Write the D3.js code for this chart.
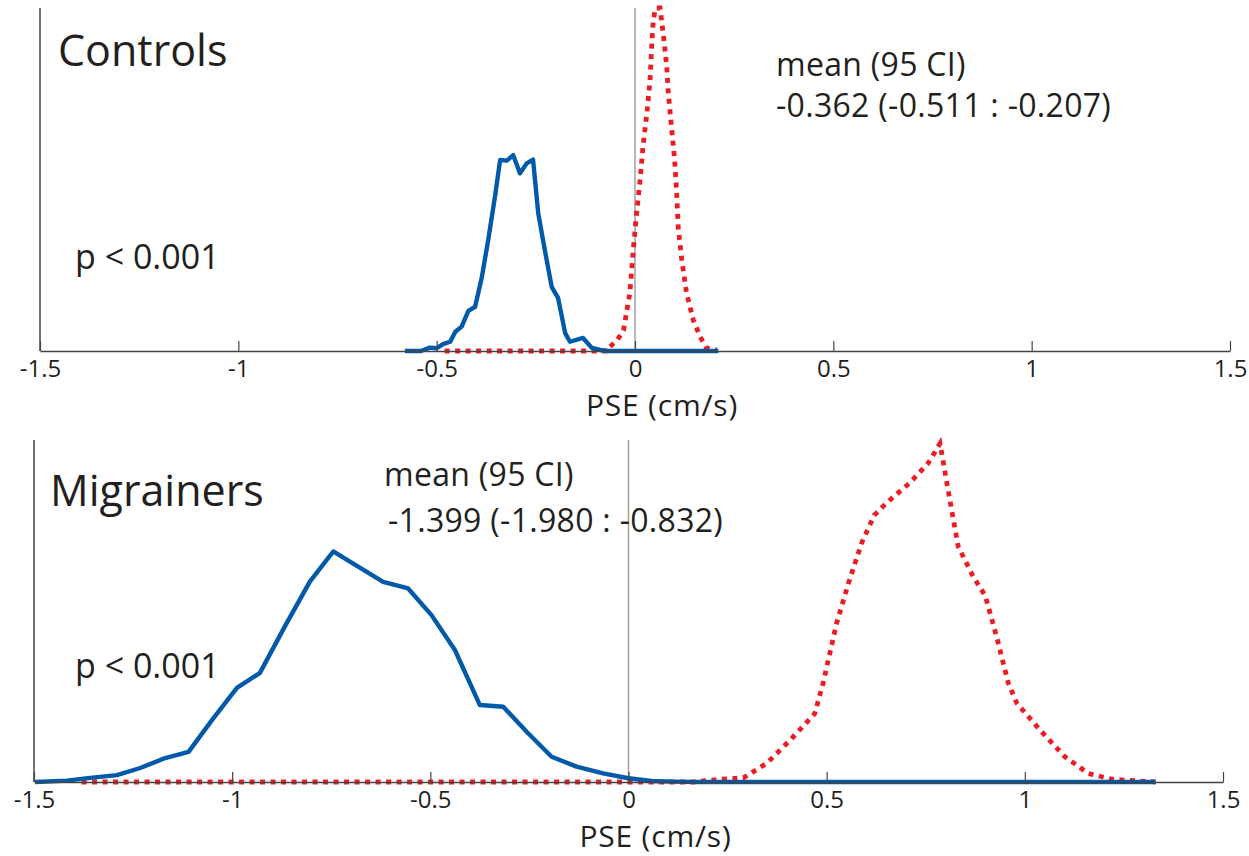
<!DOCTYPE html>
<html>
<head>
<meta charset="utf-8">
<script src="https://cdn.jsdelivr.net/npm/d3@7"></script>
<style>
  html, body { margin: 0; padding: 0; background: #fff; }
  svg text { font-family: "Open Sans", "Noto Sans", sans-serif; fill: #231f20; }
</style>
</head>
<body>
<svg id="chart" width="1249" height="856"></svg>
<script>
// ---------- DATA ----------
const xTicks = [-1.5, -1, -0.5, 0, 0.5, 1, 1.5];
const xTickLabels = ["-1.5", "-1", "-0.5", "0", "0.5", "1", "1.5"];
const xLabel = "PSE (cm/s)";

// Controls – blue (solid) distribution
const ctrlBlueX = [-0.58, -0.54, -0.517, -0.50, -0.484, -0.466, -0.453, -0.437, -0.42, -0.403, -0.386, -0.37, -0.353, -0.34, -0.323, -0.307, -0.29, -0.273, -0.257, -0.244, -0.227, -0.21, -0.194, -0.176, -0.164, -0.131, -0.109, -0.088, -0.07, 0.21];
const ctrlBlueY = [0, 0, 0.01, 0.008, 0.02, 0.027, 0.056, 0.071, 0.117, 0.129, 0.216, 0.324, 0.45, 0.557, 0.555, 0.571, 0.518, 0.547, 0.558, 0.402, 0.292, 0.187, 0.155, 0.052, 0.027, 0.038, 0.009, 0.003, 0, 0];
// Controls – red (dotted) distribution
const ctrlRedX = [-0.48, -0.07, -0.063, -0.046, -0.029, -0.013, -0.005, 0.004, 0.013, 0.02, 0.03, 0.038, 0.042, 0.046, 0.052, 0.063, 0.071, 0.08, 0.084, 0.092, 0.1, 0.105, 0.109, 0.118, 0.13, 0.147, 0.164, 0.18, 0.206];
const ctrlRedY = [0, 0, 0.013, 0.03, 0.06, 0.169, 0.286, 0.402, 0.5, 0.595, 0.694, 0.79, 0.887, 0.965, 1.0, 1.0, 0.927, 0.829, 0.752, 0.653, 0.557, 0.46, 0.36, 0.265, 0.169, 0.09, 0.042, 0.009, 0.003];

// Migrainers – blue (solid) distribution
const migBlueX = [-1.497, -1.417, -1.358, -1.291, -1.232, -1.169, -1.11, -1.051, -0.988, -0.93, -0.867, -0.804, -0.745, -0.677, -0.619, -0.556, -0.497, -0.438, -0.375, -0.316, -0.257, -0.194, -0.131, -0.064, 0, 0.058, 0.113, 0.17, 1.33];
const migBlueY = [0, 0.004, 0.012, 0.02, 0.041, 0.07, 0.088, 0.181, 0.275, 0.319, 0.455, 0.586, 0.674, 0.626, 0.585, 0.566, 0.488, 0.386, 0.225, 0.22, 0.147, 0.074, 0.045, 0.025, 0.011, 0.003, 0.001, 0, 0];
// Migrainers – red (dotted) distribution
const migRedX = [-1.38, 0.163, 0.231, 0.29, 0.349, 0.41, 0.47, 0.491, 0.525, 0.555, 0.588, 0.62, 0.65, 0.71, 0.756, 0.786, 0.81, 0.832, 0.87, 0.9, 0.93, 0.958, 0.98, 1.04, 1.1, 1.16, 1.22, 1.33];
const migRedY = [0, 0, 0.008, 0.012, 0.055, 0.125, 0.2, 0.289, 0.464, 0.581, 0.698, 0.78, 0.815, 0.875, 0.932, 0.99, 0.83, 0.688, 0.6, 0.545, 0.42, 0.29, 0.23, 0.15, 0.075, 0.025, 0.008, 0];

const panelTitles = ["Controls", "Migrainers"];
const meanHeader = "mean (95 CI)";
const meanValues = ["-0.362 (-0.511 : -0.207)", "-1.399 (-1.980 : -0.832)"];
const pTexts = ["p < 0.001", "p < 0.001"];

// ---------- DRAW ----------
const svg = d3.select("#chart");
const BLUE = "#0059A9";
const RED = "#ED1C24";

const zip = (xs, ys) => xs.map((x, i) => [x, ys[i]]);

const panels = [
  { x0: 40, x1: 1230, yb: 351, yt: 8, blue: zip(ctrlBlueX, ctrlBlueY), red: zip(ctrlRedX, ctrlRedY),
    titlePos: [58, 66], meanPos: [776, 76], valPos: [776, 117], pPos: [75, 269] },
  { x0: 34, x1: 1223, yb: 782, yt: 440, blue: zip(migBlueX, migBlueY), red: zip(migRedX, migRedY),
    titlePos: [50, 506], meanPos: [384, 486], valPos: [388, 532], pPos: [75, 678] }
];

panels.forEach((p, pi) => {
  const x = d3.scaleLinear().domain([-1.5, 1.5]).range([p.x0, p.x1]);
  const y = d3.scaleLinear().domain([0, 1]).range([p.yb, p.yt]);
  const g = svg.append("g");

  // zero reference line
  g.append("line")
    .attr("x1", x(0)).attr("x2", x(0))
    .attr("y1", y(1)).attr("y2", y(0))
    .attr("stroke", "#a0a0a0").attr("stroke-width", 1.5);

  // left axis line
  g.append("line")
    .attr("x1", x(-1.5)).attr("x2", x(-1.5))
    .attr("y1", y(1)).attr("y2", y(0))
    .attr("stroke", "#444").attr("stroke-width", 1.5);

  const line = d3.line().x(d => x(d[0])).y(d => y(d[1]));

  // red dotted
  g.append("path").datum(p.red)
    .attr("d", line)
    .attr("fill", "none").attr("stroke", RED)
    .attr("stroke-width", 4.8)
    .attr("stroke-dasharray", "5,5.5");

  // blue solid
  g.append("path").datum(p.blue)
    .attr("d", line)
    .attr("fill", "none").attr("stroke", BLUE)
    .attr("stroke-width", 4.4)
    .attr("stroke-linejoin", "round");

  // x axis
  const ax = g.append("g")
    .attr("transform", `translate(0,${p.yb})`)
    .call(d3.axisBottom(x).tickValues(xTicks)
      .tickFormat((d, i) => xTickLabels[i])
      .tickSizeInner(-10).tickSizeOuter(0).tickPadding(9));
  ax.select(".domain").attr("stroke", "#444").attr("stroke-width", 1.5);
  ax.selectAll(".tick line").attr("stroke", "#444").attr("stroke-width", 1.2);
  ax.selectAll(".tick text")
    .attr("font-size", 24)
    .attr("font-family", "'Open Sans', sans-serif")
    .attr("fill", "#231f20");

  g.append("text")
    .attr("x", x(0) + 27).attr("y", p.yb + 65)
    .attr("text-anchor", "middle")
    .attr("font-size", 30)
    .attr("letter-spacing", 0.8)
    .text(xLabel);

  // annotations
  g.append("text").attr("x", p.titlePos[0]).attr("y", p.titlePos[1])
    .attr("font-size", 43).text(panelTitles[pi]);
  g.append("text").attr("x", p.meanPos[0]).attr("y", p.meanPos[1])
    .attr("font-size", 32).attr("letter-spacing", 0.3).text(meanHeader);
  g.append("text").attr("x", p.valPos[0]).attr("y", p.valPos[1])
    .attr("font-size", 32).attr("letter-spacing", 0.3).text(meanValues[pi]);
  g.append("text").attr("x", p.pPos[0]).attr("y", p.pPos[1])
    .attr("font-size", 34).text(pTexts[pi]);
});
</script>
</body>
</html>
